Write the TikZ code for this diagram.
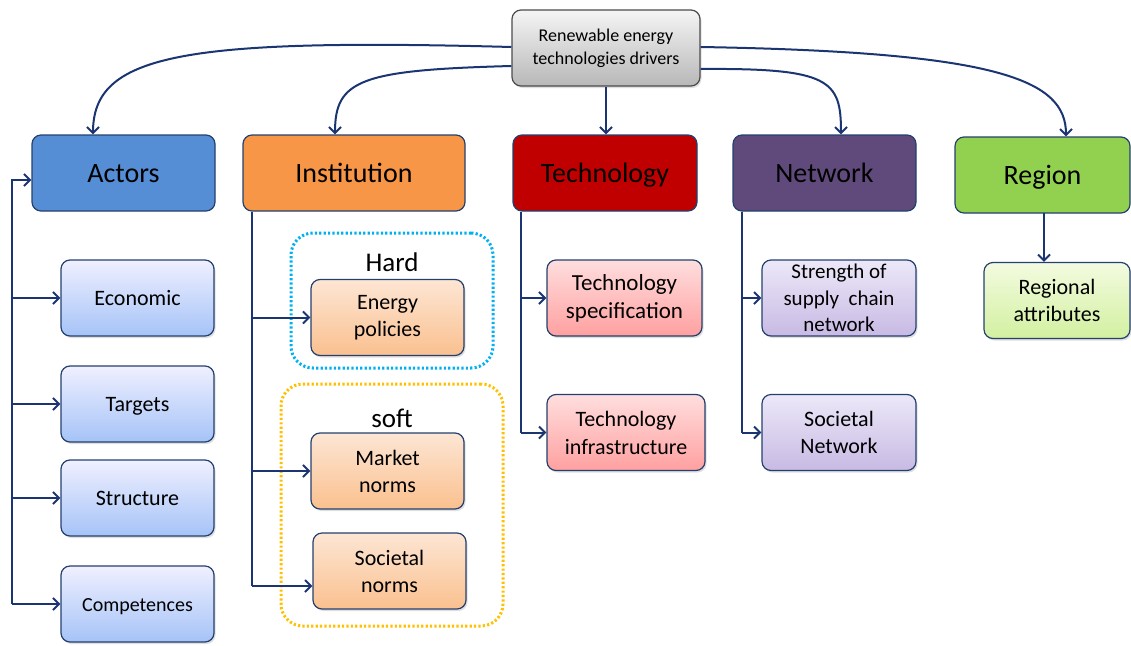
\documentclass[tikz,border=0pt]{standalone}
\usepackage{fontspec}
\setmainfont{Carlito}
\usetikzlibrary{arrows.meta,shadows}
\definecolor{navy}{HTML}{1B3472}
\definecolor{edge}{HTML}{24406E}
\definecolor{hblue}{HTML}{558ED5}
\definecolor{horange}{HTML}{F79646}
\definecolor{hred}{HTML}{C00000}
\definecolor{hpurple}{HTML}{604A7B}
\definecolor{hgreen}{HTML}{92D050}
\definecolor{hardc}{HTML}{00B0F0}
\definecolor{softc}{HTML}{FFC000}
\begin{document}
\begin{tikzpicture}[x=1pt,y=-1pt,
  base/.style={rectangle, rounded corners=9pt, draw=edge, line width=1.2pt, align=center, inner sep=2pt},
  head/.style={base, minimum height=76pt, font=\fontsize{28}{32}\selectfont, text height=21pt, text depth=3pt},
  sub/.style={base, minimum height=76pt, font=\fontsize{22}{27}\selectfont,
     drop shadow={opacity=0.25, shadow xshift=1.5pt, shadow yshift=-2pt}},
  one/.style={text height=17pt, text depth=2pt},
  bluesub/.style={sub, top color=blue!6!white, bottom color={rgb,255:red,165;green,195;blue,247}},
  orsub/.style={sub, top color={rgb,255:red,253;green,230;blue,212}, bottom color={rgb,255:red,250;green,192;blue,143}},
  redsub/.style={sub, top color={rgb,255:red,255;green,222;blue,222}, bottom color={rgb,255:red,255;green,160;blue,160}},
  purpsub/.style={sub, top color={rgb,255:red,236;green,232;blue,248}, bottom color={rgb,255:red,200;green,186;blue,228}},
  grnsub/.style={sub, top color={rgb,255:red,243;green,251;blue,224}, bottom color={rgb,255:red,210;green,240;blue,160}},
  arr/.style={draw=navy, line width=2pt, -{Straight Barb[length=6pt,width=12pt]}},
  ln/.style={draw=navy, line width=2pt},
  group/.style={rectangle, rounded corners=22pt, line width=3pt, dash pattern=on 2.2pt off 2.2pt}
]
\useasboundingbox (0,0) rectangle (1131,645);

% groups
\node[group, draw=hardc, minimum width=202pt, minimum height=135pt] (hardbox) at (392,300.5) {};
\node[group, draw=softc, minimum width=222pt, minimum height=242pt] (softbox) at (392,505) {};
\node[font=\fontsize{27}{30}\selectfont] (hard) at (392,262) {Hard};
\node[font=\fontsize{27}{30}\selectfont] (soft) at (392,418) {soft};

% top
\node[base, draw=black!70, top color=black!4, bottom color=black!28, minimum width=188pt, minimum height=76pt,
  font=\fontsize{18}{23}\selectfont, drop shadow={opacity=0.25, shadow xshift=1.5pt, shadow yshift=-2pt}] (top) at (606,48)
  {Renewable energy\\technologies drivers};

% headers
\node[head, fill=hblue, minimum width=183pt] (actors) at (123.5,173) {Actors};
\node[head, fill=horange, minimum width=222pt] (inst) at (354,173) {Institution};
\node[head, fill=hred, minimum width=184pt] (tech) at (605,173) {Technology};
\node[head, fill=hpurple, minimum width=183pt] (net) at (824.5,173) {Network};
\node[head, fill=hgreen, minimum width=175pt] (region) at (1042.5,175) {Region};

% actors subs
\node[bluesub, one, minimum width=153pt] (econ) at (137.5,298) {Economic};
\node[bluesub, one, minimum width=153pt] (targ) at (137.5,404) {Targets};
\node[bluesub, one, minimum width=153pt] (struc) at (137.5,498) {Structure};
\node[bluesub, one, minimum width=153pt, font=\fontsize{20}{24}\selectfont] (comp) at (137.5,604) {Competences};

% institution subs
\node[orsub, minimum width=153pt] (energy) at (387.5,317.5) {Energy\\policies};
\node[orsub, minimum width=153pt] (market) at (387.5,471) {Market\\norms};
\node[orsub, minimum width=153pt] (socn) at (389.5,571) {Societal\\norms};

% technology subs
\node[redsub, minimum width=155pt, font=\fontsize{23}{28}\selectfont] (tspec) at (624.5,298) {Technology\\specification};
\node[redsub, minimum width=158pt, font=\fontsize{22}{28}\selectfont] (tinfra) at (626,432.5) {Technology\\infrastructure};

% network subs
\node[purpsub, minimum width=154pt, font=\fontsize{21}{26.5}\selectfont] (supply) at (839,298) {Strength of\\supply\ \ chain\\network};
\node[purpsub, minimum width=154pt] (socnet) at (839,432.5) {Societal\\Network};

% region sub
\node[grnsub, minimum width=146pt] (regattr) at (1057,300.5) {Regional\\attributes};

% top arrows
\draw[arr] ([yshift=1pt]top.west) .. controls (180,38) and (93,55) .. ([xshift=-30.5pt]actors.north);
\draw[arr] ([yshift=-18pt]top.west) .. controls (360,70) and (335,80) .. ([xshift=-19pt]inst.north);
\draw[arr] (top.south) -- (top.south|-tech.north);
\draw[arr] ([yshift=-21pt]top.east) .. controls (830,68) and (841,80) .. ([xshift=16.5pt]net.north);
\draw[arr] ([yshift=1pt]top.east) .. controls (1000,52) and (1066,80) .. ([xshift=23.5pt]region.north);

% actors trunk
\coordinate (at) at (12,604);
\draw[arr] (at) |- ([yshift=-7pt]actors.west);
\draw[arr] (at|-econ.west) -- (econ.west);
\draw[arr] (at|-targ.west) -- (targ.west);
\draw[arr] (at|-struc.west) -- (struc.west);
\draw[arr] (at) -- (comp.west);

% institution trunk
\coordinate (it) at (252,586);
\draw[ln] (it) -- (it|-inst.south);
\draw[arr] (it|-energy.west) -- (energy.west);
\draw[arr] (it|-market.west) -- (market.west);
\draw[arr] (it) -- (socn.west|-it);

% technology trunk
\coordinate (tt) at (521,432.5);
\draw[ln] (tt) -- (tt|-tech.south);
\draw[arr] (tt|-tspec.west) -- (tspec.west);
\draw[arr] (tt) -- (tinfra.west);

% network trunk
\coordinate (nt) at (742,432.5);
\draw[ln] (nt) -- (nt|-net.south);
\draw[arr] (nt|-supply.west) -- (supply.west);
\draw[arr] (nt) -- (socnet.west);

% region
\coordinate (rt) at (1044,213);
\draw[arr] (rt) -- (rt|-regattr.north);
\end{tikzpicture}
\end{document}
